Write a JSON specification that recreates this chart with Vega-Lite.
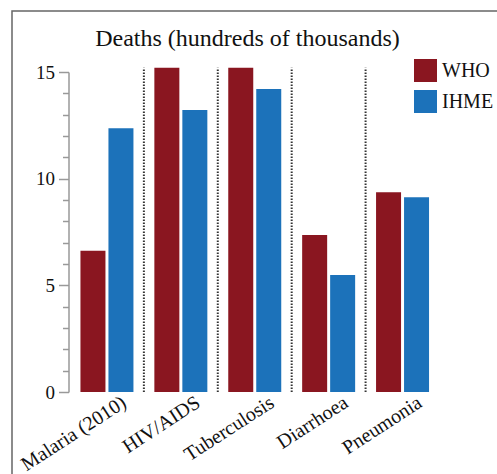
{
  "$schema": "https://vega.github.io/schema/vega-lite/v6.json",
  "width": 487,
  "height": 465,
  "autosize": {"type": "none"},
  "padding": {"left": 12, "top": 11, "right": -2, "bottom": -2},
  "background": "white",
  "title": {
    "text": "Deaths (hundreds of thousands)",
    "font": "Liberation Serif",
    "fontSize": 24,
    "fontWeight": "normal",
    "color": "#111111",
    "anchor": "middle",
    "baseline": "alphabetic",
    "offset": -59,
    "dx": -8
  },
  "config": {
    "view": {"stroke": "#666666", "strokeWidth": 1.5},
    "font": "Liberation Serif",
    "axisY": {"labelOverlap": false, "labelSeparation": 0}
  },
  "datasets": {
    "deaths": [
      {"cause": "Malaria (2010)", "source": "WHO", "deaths": 6.62},
      {"cause": "Malaria (2010)", "source": "IHME", "deaths": 12.36},
      {"cause": "HIV/AIDS", "source": "WHO", "deaths": 15.2},
      {"cause": "HIV/AIDS", "source": "IHME", "deaths": 13.22},
      {"cause": "Tuberculosis", "source": "WHO", "deaths": 15.2},
      {"cause": "Tuberculosis", "source": "IHME", "deaths": 14.2},
      {"cause": "Diarrhoea", "source": "WHO", "deaths": 7.36},
      {"cause": "Diarrhoea", "source": "IHME", "deaths": 5.48},
      {"cause": "Pneumonia", "source": "WHO", "deaths": 9.36},
      {"cause": "Pneumonia", "source": "IHME", "deaths": 9.13}
    ],
    "separators": [
      {"cause": "Malaria (2010)"},
      {"cause": "HIV/AIDS"},
      {"cause": "Tuberculosis"},
      {"cause": "Diarrhoea"}
    ]
  },
  "layer": [
    {
      "data": {"name": "separators"},
      "mark": {"type": "rule", "color": "#333333", "strokeWidth": 2, "strokeDash": [1.5, 1.5]},
      "encoding": {
        "x": {
          "field": "cause",
          "type": "nominal",
          "bandPosition": 1.197,
          "sort": null,
          "scale": {
            "domain": ["Malaria (2010)", "HIV/AIDS", "Tuberculosis", "Diarrhoea", "Pneumonia"],
            "range": [58, 427.5],
            "paddingInner": 0.283,
            "paddingOuter": 0.1415
          },
          "axis": {
            "title": null,
            "orient": "bottom",
            "offset": -84,
            "domain": false,
            "ticks": false,
            "labelAngle": -33,
            "labelAlign": "right",
            "labelBaseline": "top",
            "labelOffset": 12,
            "labelPadding": 0,
            "labelOverlap": false,
            "labelFont": "Liberation Serif",
            "labelFontSize": 20,
            "labelColor": "#111111"
          }
        },
        "y": {
          "datum": 0,
          "type": "quantitative",
          "scale": {"domain": [0, 15], "range": [381, 61], "nice": false},
          "axis": {
            "title": null,
            "orient": "left",
            "offset": -56.5,
            "values": [0, 1, 2, 3, 4, 5, 6, 7, 8, 9, 10, 11, 12, 13, 14, 15],
            "labelExpr": "datum.value % 5 === 0 ? datum.label : ''",
            "labelOverlap": false,
            "tickSize": {"condition": {"test": "datum.value % 5 === 0", "value": 10}, "value": 6},
            "tickColor": "#999999",
            "tickWidth": 1.5,
            "domainColor": "#999999",
            "domainWidth": 1.5,
            "grid": false,
            "labelPadding": 4,
            "labelFont": "Liberation Serif",
            "labelFontSize": 19,
            "labelColor": "#111111"
          }
        },
        "y2": {"datum": 15.2}
      }
    },
    {
      "data": {"name": "deaths"},
      "mark": {"type": "bar"},
      "encoding": {
        "x": {
          "field": "cause",
          "type": "nominal",
          "sort": null,
          "scale": {
            "domain": ["Malaria (2010)", "HIV/AIDS", "Tuberculosis", "Diarrhoea", "Pneumonia"],
            "range": [58, 427.5],
            "paddingInner": 0.283,
            "paddingOuter": 0.1415
          },
          "axis": {
            "title": null,
            "orient": "bottom",
            "offset": -84,
            "domain": false,
            "ticks": false,
            "labelAngle": -33,
            "labelAlign": "right",
            "labelBaseline": "top",
            "labelOffset": 12,
            "labelPadding": 0,
            "labelOverlap": false,
            "labelFont": "Liberation Serif",
            "labelFontSize": 20,
            "labelColor": "#111111"
          }
        },
        "xOffset": {
          "field": "source",
          "type": "nominal",
          "sort": ["WHO", "IHME"],
          "scale": {"paddingInner": 0.107, "paddingOuter": 0}
        },
        "y": {
          "field": "deaths",
          "type": "quantitative",
          "scale": {"domain": [0, 15], "range": [381, 61], "nice": false},
          "axis": {
            "title": null,
            "orient": "left",
            "offset": -56.5,
            "values": [0, 1, 2, 3, 4, 5, 6, 7, 8, 9, 10, 11, 12, 13, 14, 15],
            "labelExpr": "datum.value % 5 === 0 ? datum.label : ''",
            "labelOverlap": false,
            "tickSize": {"condition": {"test": "datum.value % 5 === 0", "value": 10}, "value": 6},
            "tickColor": "#999999",
            "tickWidth": 1.5,
            "domainColor": "#999999",
            "domainWidth": 1.5,
            "grid": false,
            "labelPadding": 4,
            "labelFont": "Liberation Serif",
            "labelFontSize": 19,
            "labelColor": "#111111"
          }
        },
        "color": {
          "field": "source",
          "type": "nominal",
          "scale": {"domain": ["WHO", "IHME"], "range": ["#8a1620", "#1c72ba"]},
          "legend": {
            "title": null,
            "orient": "none",
            "legendX": 402,
            "legendY": 48,
            "symbolType": "square",
            "symbolSize": 529,
            "symbolStrokeWidth": 0,
            "symbolOpacity": 1,
            "rowPadding": 8,
            "labelOffset": 5,
            "labelFont": "Liberation Serif",
            "labelFontSize": 20,
            "labelColor": "#111111"
          }
        }
      }
    }
  ]
}
